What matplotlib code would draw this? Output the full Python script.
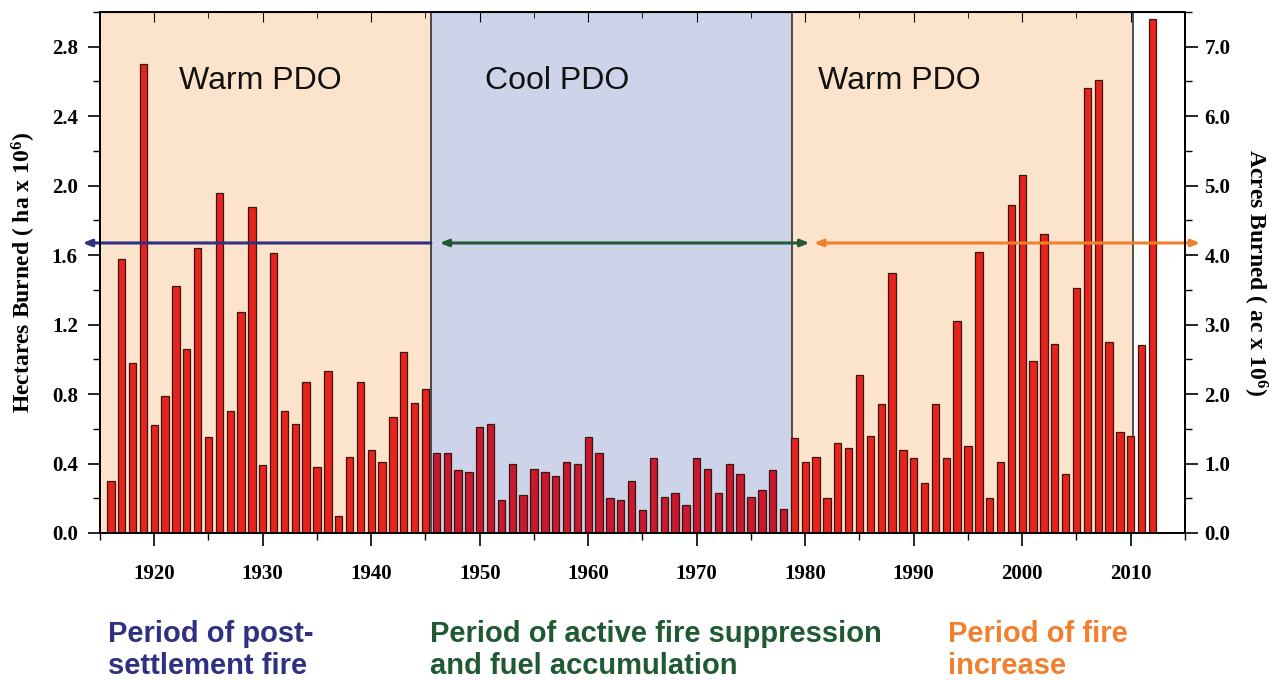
import numpy as np
import matplotlib
matplotlib.use("Agg")
from matplotlib import pyplot as plt
from matplotlib.ticker import MultipleLocator

# annual area burned, hectares x 10^6
years = list(range(1916, 2013))
hectares = [
    0.30, 1.58, 0.98, 2.70, 0.62, 0.79, 1.42, 1.06, 1.64, 0.55,   # 1916-1925
    1.96, 0.70, 1.27, 1.88, 0.39, 1.61, 0.70, 0.63, 0.87, 0.38,   # 1926-1935
    0.93, 0.10, 0.44, 0.87, 0.48, 0.41, 0.67, 1.04, 0.75, 0.83,   # 1936-1945
    0.46, 0.46, 0.36, 0.35, 0.61, 0.63, 0.19, 0.40, 0.22, 0.37,   # 1946-1955
    0.35, 0.33, 0.41, 0.40, 0.55, 0.46, 0.20, 0.19, 0.30, 0.13,   # 1956-1965
    0.43, 0.21, 0.23, 0.16, 0.43, 0.37, 0.23, 0.40, 0.34, 0.21,   # 1966-1975
    0.25, 0.36, 0.14, 0.545, 0.41, 0.44, 0.20, 0.52, 0.49, 0.91,  # 1976-1985
    0.56, 0.74, 1.50, 0.48, 0.43, 0.29, 0.74, 0.43, 1.22, 0.50,   # 1986-1995
    1.62, 0.20, 0.41, 1.89, 2.06, 0.99, 1.72, 1.09, 0.34, 1.41,   # 1996-2005
    2.56, 2.61, 1.10, 0.58, 0.56, 1.08, 2.96,                     # 2006-2012
]

# PDO phases (start, end, label)
phase_edges = [1915, 1945.5, 1978.8, 2010.2]
phase_labels = ["Warm PDO", "Cool PDO", "Warm PDO"]
phase_label_x = [1922.3, 1950.5, 1981.2]

period_texts = ["Period of post-\nsettlement fire",
                "Period of active fire suppression\nand fuel accumulation",
                "Period of fire\nincrease"]

warm = "#fce3cb"
cool = "#cdd3e8"
navy = "#2e3082"
green = "#1f5a32"
orange = "#f07f2e"

plt.rcParams['mathtext.fontset'] = 'custom'
plt.rcParams['mathtext.rm'] = 'Liberation Serif:bold'
plt.rcParams['mathtext.it'] = 'Liberation Serif:bold'
plt.rcParams['mathtext.bf'] = 'Liberation Serif:bold'

W, H = 1277, 680
fig = plt.figure(figsize=(W / 100, H / 100), dpi=100)
ax = fig.add_axes([100 / W, 1 - 533 / H, (1185 - 100) / W, (533 - 12) / H])

# background shading by PDO phase
ax.axvspan(phase_edges[0], phase_edges[1], color=warm, lw=0, zorder=0)
ax.axvspan(phase_edges[1], phase_edges[2], color=cool, lw=0, zorder=0)
ax.axvspan(phase_edges[2], phase_edges[3], color=warm, lw=0, zorder=0)
for xe in phase_edges[1:]:
    ax.axvline(xe, color="#222222", lw=1.1, zorder=1)

colors = []
for y in years:
    if phase_edges[1] < y < phase_edges[2]:
        colors.append("#c8192e")
    else:
        colors.append("#e8231b")
ax.bar(years, hectares, width=0.68, color=colors, edgecolor="#3a1612",
       linewidth=0.9, zorder=3)

for lab, xl in zip(phase_labels, phase_label_x):
    ax.text(xl, 2.6, lab, ha="left", va="center", fontsize=23,
            family="Liberation Sans", color="#111111", zorder=5)

# period arrows
ay = 1.67
ax.annotate("", xy=(1913.4, ay), xytext=(1945.5, ay), annotation_clip=False,
            arrowprops=dict(arrowstyle="-|>,head_length=0.5,head_width=0.2",
                            color=navy, lw=2.2, shrinkA=0, shrinkB=0), zorder=6)
ax.annotate("", xy=(1946.3, ay), xytext=(1980.4, ay), annotation_clip=False,
            arrowprops=dict(arrowstyle="<|-|>,head_length=0.5,head_width=0.2",
                            color=green, lw=2.2, shrinkA=0, shrinkB=0), zorder=6)
ax.annotate("", xy=(1980.8, ay), xytext=(2016.4, ay), annotation_clip=False,
            arrowprops=dict(arrowstyle="<|-|>,head_length=0.5,head_width=0.2",
                            color=orange, lw=2.2, shrinkA=0, shrinkB=0), zorder=6)

ax.set_xlim(1915, 2015)
ax.set_ylim(0, 3.0)
ax.xaxis.set_major_locator(MultipleLocator(10))
ax.xaxis.set_minor_locator(MultipleLocator(5))
ax.yaxis.set_major_locator(MultipleLocator(0.4))
ax.yaxis.set_minor_locator(MultipleLocator(0.2))
ax.yaxis.set_major_formatter(matplotlib.ticker.FormatStrFormatter("%.1f"))
ax.tick_params(axis="both", which="major", direction="out", length=9, width=1.2,
               pad=7, labelsize=15)
ax.tick_params(axis="x", which="major", pad=13)
ax.tick_params(axis="both", which="minor", direction="out", length=5, width=1.0)
for lbl in ax.get_xticklabels() + ax.get_yticklabels():
    lbl.set_fontfamily("Liberation Serif")
    lbl.set_fontweight("bold")
for sp in ax.spines.values():
    sp.set_linewidth(1.4)

top = ax.secondary_xaxis("top")
top.xaxis.set_major_locator(MultipleLocator(10))
top.xaxis.set_minor_locator(MultipleLocator(5))
top.tick_params(which="major", direction="in", length=7, labelsize=0, labeltop=False)
top.tick_params(which="minor", direction="in", length=4)

ax.set_ylabel("Hectares Burned ( ha x 10$^6$)", fontsize=17, family="Liberation Serif",
              weight="bold", labelpad=10)

ax2 = ax.twinx()
ax2.set_ylim(0, 7.5)
ax2.yaxis.set_major_locator(MultipleLocator(1.0))
ax2.yaxis.set_minor_locator(MultipleLocator(0.5))
ax2.yaxis.set_major_formatter(matplotlib.ticker.FormatStrFormatter("%.1f"))
ax2.tick_params(which="major", direction="out", length=9, width=1.2, pad=5, labelsize=15)
ax2.tick_params(which="minor", direction="out", length=5, width=1.0)
for lbl in ax2.get_yticklabels():
    lbl.set_fontfamily("Liberation Serif")
    lbl.set_fontweight("bold")
ax2.set_ylabel("Acres Burned ( ac x 10$^6$)", fontsize=17, family="Liberation Serif",
               weight="bold", rotation=270, labelpad=28)
for sp in ax2.spines.values():
    sp.set_linewidth(1.4)

# period descriptions under the chart
text_x = [108, 430, 948]
text_c = [navy, green, orange]
for t, xp, c in zip(period_texts, text_x, text_c):
    fig.text(xp / W, 1 - 620 / H, t, ha="left", va="top", fontsize=21,
             weight="bold", family="Liberation Sans", color=c, linespacing=1.18)

fig.savefig("out.png", dpi=100)
